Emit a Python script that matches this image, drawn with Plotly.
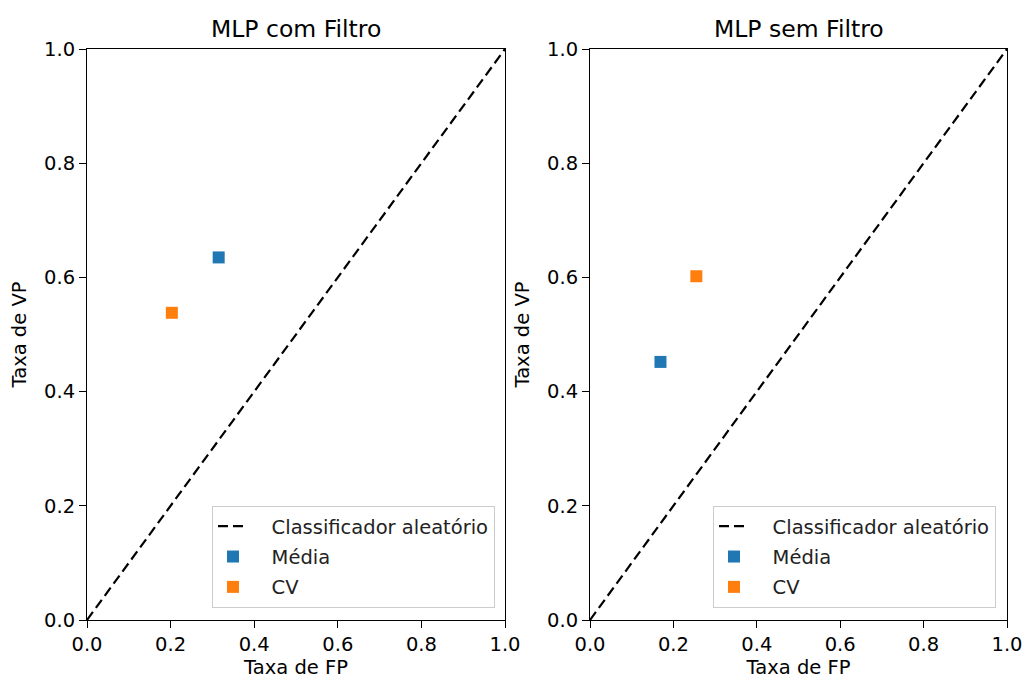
import plotly.graph_objects as go

titles = ["MLP com Filtro", "MLP sem Filtro"]
diag_x = [0.0, 1.0]
diag_y = [0.0, 1.0]
media_fp = [0.315, 0.169]
media_vp = [0.635, 0.452]
cv_fp = [0.203, 0.255]
cv_vp = [0.538, 0.602]
ticks = [0.0, 0.2, 0.4, 0.6, 0.8, 1.0]
tick_text = ["0.0", "0.2", "0.4", "0.6", "0.8", "1.0"]
legend_labels = ["Classificador aleatório", "Média", "CV"]

BLUE = "#1f77b4"
ORANGE = "#ff7f0e"
FONT = "DejaVu Sans"
FS = 19.5
TFS = 23.5
PAD = "\u00a0" * 3

W, H = 1024, 679
ML, MR, MT, MB = 70, 10, 40, 50
PW = W - ML - MR
PH = H - MT - MB


def px_x(p):
    return (p - ML) / PW


def px_y(p):
    return (H - MB - p) / PH


fig = go.Figure()

domains = [[px_x(87), px_x(505)], [px_x(590), px_x(1007)]]
ydom = [px_y(620), px_y(49)]
legend_names = ["legend", "legend2"]
leg_x = [px_x(495), px_x(996)]

for i in range(2):
    xa = "x" if i == 0 else "x2"
    ya = "y" if i == 0 else "y2"
    lg = legend_names[i]
    fig.add_trace(go.Scatter(x=diag_x, y=diag_y, mode="lines",
                             line=dict(color="black", dash="10px,5px", width=2.2),
                             name=PAD + legend_labels[0], xaxis=xa, yaxis=ya, legend=lg,
                             legendgroup="a%d" % i))
    fig.add_trace(go.Scatter(x=[media_fp[i]], y=[media_vp[i]], mode="markers",
                             marker=dict(symbol="square", size=12, color=BLUE),
                             name=PAD + legend_labels[1], xaxis=xa, yaxis=ya, legend=lg,
                             legendgroup="b%d" % i))
    fig.add_trace(go.Scatter(x=[cv_fp[i]], y=[cv_vp[i]], mode="markers",
                             marker=dict(symbol="square", size=12, color=ORANGE),
                             name=PAD + legend_labels[2], xaxis=xa, yaxis=ya, legend=lg,
                             legendgroup="c%d" % i))

axis_common = dict(range=[0, 1], tickvals=ticks, ticktext=tick_text, ticks="outside",
                   ticklen=7, tickwidth=1, tickcolor="black", showline=True, linecolor="black",
                   linewidth=1, mirror=True, showgrid=False, zeroline=False, automargin=False,
                   tickfont=dict(family=FONT, size=FS, color="black"))

for i in range(2):
    sx = "" if i == 0 else "2"
    fig.layout["xaxis" + sx] = go.layout.XAxis(
        domain=domains[i], anchor="y" + sx,
        title=dict(text="Taxa de FP", font=dict(family=FONT, size=FS, color="black"), standoff=5),
        **axis_common)
    fig.layout["yaxis" + sx] = go.layout.YAxis(
        domain=ydom, anchor="x" + sx,
        title=dict(text="Taxa de VP", font=dict(family=FONT, size=FS, color="black"), standoff=12),
        **axis_common)
    fig.add_annotation(text=titles[i], xref="paper", yref="paper",
                       x=(domains[i][0] + domains[i][1]) / 2, y=ydom[1], yshift=4,
                       xanchor="center", yanchor="bottom", showarrow=False,
                       font=dict(family=FONT, size=TFS, color="black"))

leg_common = dict(xanchor="right", yanchor="bottom", y=px_y(608),
                  bgcolor="rgba(255,255,255,0.8)", bordercolor="#cccccc", borderwidth=1,
                  font=dict(family=FONT, size=FS, color="#222222"), itemwidth=30,
                  tracegroupgap=2)

fig.update_layout(
    width=W, height=H,
    margin=dict(l=ML, r=MR, t=MT, b=MB),
    plot_bgcolor="white", paper_bgcolor="white",
    legend=dict(x=leg_x[0], **leg_common),
    legend2=dict(x=leg_x[1], **leg_common),
    showlegend=True,
)

fig.write_html("out.html")
